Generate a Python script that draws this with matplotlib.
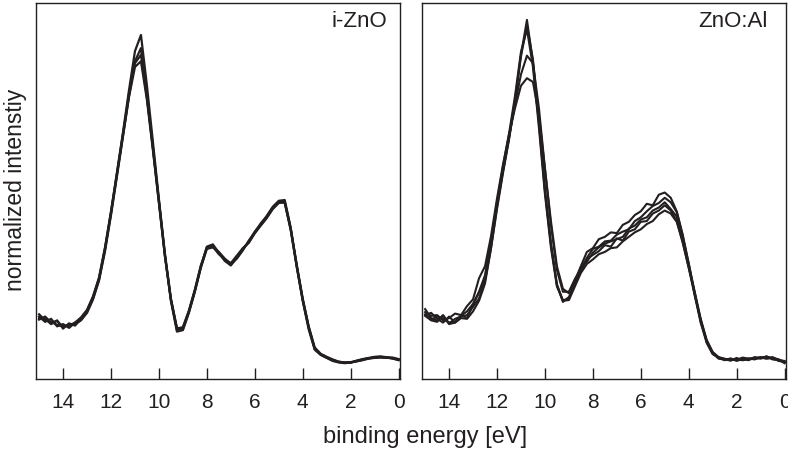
import numpy as np
import matplotlib
matplotlib.use("Agg")
import matplotlib.pyplot as plt

# binding energy grid [eV], 15 -> 0 in 0.25 eV steps
energy = np.linspace(15.0, 0.0, 61)

# i-ZnO spectra (normalized intensity)
izno_1 = [0.172, 0.156, 0.152, 0.144, 0.140, 0.142, 0.150, 0.160, 0.182, 0.218,
          0.268, 0.348, 0.444, 0.550, 0.656, 0.768, 0.872, 0.915, 0.780, 0.630,
          0.478, 0.330, 0.208, 0.126, 0.130, 0.176, 0.232, 0.298, 0.352, 0.358,
          0.336, 0.314, 0.302, 0.322, 0.344, 0.366, 0.392, 0.412, 0.434, 0.458,
          0.474, 0.476, 0.402, 0.300, 0.208, 0.132, 0.078, 0.064, 0.056, 0.048,
          0.044, 0.042, 0.044, 0.049, 0.053, 0.056, 0.059, 0.060, 0.058, 0.055,
          0.050]
izno_2 = [0.158, 0.166, 0.150, 0.154, 0.138, 0.146, 0.146, 0.156, 0.176, 0.212,
          0.262, 0.340, 0.436, 0.540, 0.645, 0.752, 0.845, 0.880, 0.752, 0.612,
          0.470, 0.326, 0.212, 0.134, 0.138, 0.182, 0.238, 0.302, 0.348, 0.352,
          0.332, 0.318, 0.308, 0.328, 0.348, 0.362, 0.388, 0.408, 0.428, 0.452,
          0.468, 0.470, 0.398, 0.302, 0.212, 0.138, 0.082, 0.066, 0.058, 0.051,
          0.046, 0.044, 0.045, 0.047, 0.051, 0.054, 0.057, 0.057, 0.056, 0.057,
          0.053]
izno_3 = [0.166, 0.152, 0.160, 0.140, 0.146, 0.136, 0.150, 0.164, 0.184, 0.220,
          0.270, 0.350, 0.446, 0.548, 0.652, 0.758, 0.840, 0.862, 0.748, 0.616,
          0.474, 0.334, 0.214, 0.136, 0.132, 0.178, 0.234, 0.296, 0.346, 0.350,
          0.338, 0.320, 0.306, 0.320, 0.342, 0.368, 0.390, 0.414, 0.432, 0.456,
          0.472, 0.468, 0.396, 0.298, 0.210, 0.136, 0.080, 0.065, 0.057, 0.050,
          0.045, 0.043, 0.043, 0.048, 0.052, 0.055, 0.058, 0.059, 0.057, 0.054,
          0.051]
izno_4 = [0.162, 0.160, 0.146, 0.156, 0.134, 0.148, 0.142, 0.160, 0.178, 0.214,
          0.264, 0.344, 0.440, 0.544, 0.648, 0.750, 0.830, 0.845, 0.742, 0.608,
          0.468, 0.328, 0.210, 0.132, 0.136, 0.180, 0.236, 0.300, 0.350, 0.354,
          0.334, 0.316, 0.304, 0.324, 0.346, 0.364, 0.388, 0.410, 0.430, 0.454,
          0.470, 0.472, 0.400, 0.304, 0.214, 0.140, 0.084, 0.067, 0.059, 0.052,
          0.046, 0.044, 0.044, 0.047, 0.050, 0.055, 0.056, 0.058, 0.058, 0.056,
          0.052]

# ZnO:Al spectra
azo_1 = [0.186, 0.162, 0.155, 0.170, 0.148, 0.160, 0.166, 0.170, 0.192, 0.214,
         0.262, 0.348, 0.458, 0.552, 0.640, 0.742, 0.862, 0.955, 0.842, 0.680,
         0.500, 0.358, 0.250, 0.205, 0.218, 0.252, 0.298, 0.312, 0.336, 0.350,
         0.360, 0.366, 0.372, 0.378, 0.400, 0.408, 0.424, 0.430, 0.448, 0.456,
         0.470, 0.452, 0.432, 0.368, 0.302, 0.226, 0.156, 0.100, 0.070, 0.056,
         0.050, 0.055, 0.048, 0.053, 0.050, 0.057, 0.054, 0.060, 0.052, 0.050,
         0.044]
azo_2 = [0.170, 0.176, 0.160, 0.150, 0.166, 0.150, 0.170, 0.162, 0.198, 0.230,
         0.270, 0.360, 0.470, 0.566, 0.652, 0.752, 0.870, 0.930, 0.830, 0.668,
         0.492, 0.350, 0.246, 0.210, 0.212, 0.258, 0.286, 0.318, 0.330, 0.340,
         0.356, 0.352, 0.374, 0.368, 0.392, 0.398, 0.418, 0.420, 0.440, 0.448,
         0.462, 0.448, 0.420, 0.362, 0.296, 0.222, 0.150, 0.096, 0.066, 0.058,
         0.052, 0.049, 0.056, 0.050, 0.055, 0.052, 0.058, 0.054, 0.056, 0.048,
         0.046]
azo_3 = [0.178, 0.168, 0.170, 0.156, 0.162, 0.174, 0.170, 0.194, 0.212, 0.268,
         0.300, 0.380, 0.480, 0.570, 0.650, 0.720, 0.780, 0.800, 0.790, 0.700,
         0.560, 0.420, 0.300, 0.240, 0.228, 0.262, 0.300, 0.338, 0.348, 0.372,
         0.378, 0.390, 0.388, 0.410, 0.418, 0.436, 0.446, 0.466, 0.462, 0.490,
         0.496, 0.482, 0.446, 0.384, 0.306, 0.232, 0.160, 0.104, 0.072, 0.058,
         0.054, 0.050, 0.052, 0.055, 0.052, 0.058, 0.056, 0.060, 0.054, 0.052,
         0.042]
azo_4 = [0.172, 0.158, 0.166, 0.160, 0.150, 0.152, 0.168, 0.180, 0.200, 0.232,
         0.276, 0.366, 0.466, 0.556, 0.642, 0.730, 0.810, 0.860, 0.840, 0.720,
         0.560, 0.410, 0.290, 0.232, 0.232, 0.266, 0.292, 0.322, 0.346, 0.352,
         0.366, 0.368, 0.384, 0.392, 0.398, 0.420, 0.430, 0.446, 0.460, 0.468,
         0.482, 0.470, 0.444, 0.380, 0.308, 0.226, 0.158, 0.098, 0.068, 0.056,
         0.053, 0.052, 0.050, 0.057, 0.054, 0.055, 0.058, 0.056, 0.058, 0.050,
         0.048]
azo_5 = [0.168, 0.156, 0.152, 0.168, 0.146, 0.150, 0.162, 0.160, 0.180, 0.208,
         0.254, 0.348, 0.452, 0.548, 0.636, 0.738, 0.858, 0.940, 0.850, 0.690,
         0.506, 0.362, 0.252, 0.208, 0.210, 0.246, 0.282, 0.306, 0.318, 0.332,
         0.338, 0.348, 0.350, 0.366, 0.378, 0.390, 0.398, 0.412, 0.420, 0.438,
         0.448, 0.440, 0.418, 0.366, 0.296, 0.230, 0.152, 0.102, 0.068, 0.054,
         0.052, 0.050, 0.052, 0.050, 0.053, 0.054, 0.056, 0.055, 0.057, 0.052,
         0.046]

x_ticks = [14, 12, 10, 8, 6, 4, 2, 0]
panel_labels = ['i-ZnO', 'ZnO:Al']

LINE_COLOR = '#231f20'


def draw_panel(ax, spectra, label, label_x, lw):
    for s in spectra:
        assert len(s) == len(energy)
        ax.plot(energy, s, color=LINE_COLOR, lw=lw)
    ax.set_xlim(15.13, -0.06)
    ax.set_ylim(0, 1)
    ax.set_xticks(x_ticks)
    ax.set_yticks([])
    ax.tick_params(axis='x', direction='in', length=8, width=1,
                   labelsize=15, pad=10, colors='#231f20')
    for sp in ax.spines.values():
        sp.set_color('#231f20')
        sp.set_linewidth(1.0)
    ax.text(label_x, 0.952, label, transform=ax.transAxes, ha='right', va='center',
            fontsize=16, color='#231f20')


def main():
    plt.rcParams['font.family'] = ['Liberation Sans', 'DejaVu Sans']
    fig = plt.figure(figsize=(7.88, 4.57), dpi=100)
    ax_l = fig.add_axes([36 / 788, 1 - 379 / 457, 364 / 788, 376 / 457])
    ax_r = fig.add_axes([422 / 788, 1 - 379 / 457, 364 / 788, 376 / 457])

    draw_panel(ax_l, [izno_1, izno_2, izno_3, izno_4], panel_labels[0], 0.964, 1.6)
    draw_panel(ax_r, [azo_1, azo_2, azo_3, azo_4, azo_5], panel_labels[1], 0.95, 1.5)

    fig.text(16 / 788, 1 - 190 / 457, 'normalized intenstiy', rotation=90,
             ha='center', va='center', fontsize=16.5, color='#231f20')
    fig.text(425 / 788, 1 - 437 / 457, 'binding energy [eV]', ha='center', va='center',
             fontsize=17, color='#231f20')

    fig.savefig('out.png', dpi=100)


if __name__ == '__main__':
    main()
